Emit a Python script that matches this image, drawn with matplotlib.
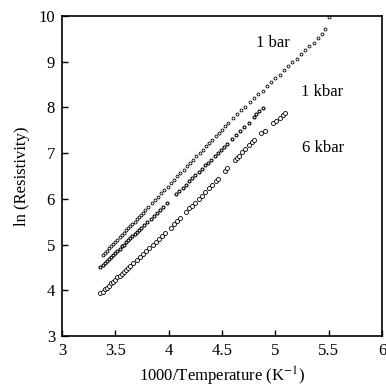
import matplotlib
matplotlib.use("Agg")
import matplotlib.pyplot as plt

plt.rcParams['font.family'] = ['Liberation Serif', 'DejaVu Serif']
plt.rcParams['mathtext.fontset'] = 'stix'

x_1bar = [3.38,3.40,3.42,3.44,3.46,3.48,3.50,3.52,3.54,3.56,3.58,3.60,3.62,3.64,3.66,3.68,3.70,3.72,3.74,3.76,
          3.78,3.81,3.84,3.87,3.90,3.93,3.96,3.99,4.02,4.05,4.08,4.11,4.14,4.17,4.20,4.23,4.26,4.29,4.32,4.35,
          4.38,4.41,4.44,4.47,4.50,4.53,4.56,4.60,4.64,4.68,4.72,4.76,4.80,4.84,4.88,4.92,4.96,5.00,5.04,5.08,
          5.12,5.16,5.20,5.24,5.28,5.32,5.36,5.40,5.44,5.47,5.50]
y_1bar = [4.77,4.82,4.87,4.92,4.97,5.02,5.06,5.11,5.16,5.21,5.26,5.31,5.36,5.41,5.46,5.50,5.55,5.60,5.65,5.70,
          5.75,5.82,5.90,5.97,6.04,6.12,6.19,6.26,6.34,6.41,6.49,6.56,6.63,6.71,6.78,6.85,6.93,7.00,7.07,7.15,
          7.22,7.29,7.37,7.44,7.51,7.59,7.66,7.76,7.85,7.94,8.02,8.11,8.20,8.29,8.37,8.46,8.55,8.64,8.72,8.81,
          8.90,8.99,9.07,9.16,9.25,9.34,9.42,9.51,9.60,9.72,9.97]

x_1kbar = [3.36,3.38,3.40,3.42,3.44,3.46,3.48,3.50,3.52,3.54,3.56,3.58,3.60,3.62,3.64,3.66,3.68,3.70,3.72,3.74,
           3.77,3.80,3.83,3.86,3.89,3.92,3.95,3.98,4.07,4.10,4.13,4.16,4.19,4.22,4.25,4.28,4.31,4.34,4.37,4.40,
           4.43,4.46,4.49,4.52,4.55,4.59,4.63,4.67,4.71,4.75,4.80,4.82,4.85,4.88]
y_1kbar = [4.51,4.55,4.60,4.64,4.69,4.73,4.78,4.82,4.87,4.91,4.96,5.00,5.05,5.09,5.14,5.18,5.23,5.27,5.32,5.36,
           5.43,5.50,5.56,5.63,5.70,5.76,5.83,5.90,6.10,6.17,6.24,6.31,6.38,6.45,6.52,6.59,6.66,6.73,6.79,6.86,
           6.93,7.00,7.07,7.14,7.21,7.30,7.39,7.49,7.58,7.67,7.80,7.86,7.92,7.99]

x_6kbar = [3.36,3.38,3.40,3.42,3.44,3.46,3.48,3.50,3.52,3.54,3.56,3.58,3.60,3.62,3.64,3.67,3.70,3.73,3.76,3.79,
           3.82,3.85,3.88,3.91,3.94,3.97,4.02,4.05,4.08,4.11,4.16,4.19,4.22,4.25,4.28,4.31,4.34,4.38,4.41,4.44,
           4.46,4.53,4.55,4.62,4.64,4.66,4.69,4.72,4.75,4.78,4.80,4.87,4.90,4.98,5.01,5.04,5.07,5.09]
y_6kbar = [3.93,3.97,4.02,4.06,4.10,4.15,4.19,4.23,4.28,4.32,4.36,4.41,4.45,4.49,4.54,4.60,4.67,4.73,4.80,4.86,
           4.93,4.99,5.06,5.12,5.19,5.25,5.37,5.44,5.52,5.59,5.71,5.79,5.84,5.92,5.99,6.06,6.14,6.23,6.31,6.38,
           6.43,6.62,6.67,6.84,6.89,6.94,7.02,7.09,7.17,7.24,7.29,7.43,7.49,7.65,7.71,7.77,7.83,7.87]

labels = ["1 bar", "1 kbar", "6 kbar"]
label_pos = [(4.98, 9.40), (5.44, 8.34), (5.45, 7.11)]

xticks = [3, 3.5, 4, 4.5, 5, 5.5, 6]
yticks = [3, 4, 5, 6, 7, 8, 9, 10]

fig = plt.figure(figsize=(3.86, 3.90), dpi=100)
ax = fig.add_axes([0.1606, 0.1385, 0.829, 0.8205])

mk = dict(linestyle='none', marker='o', markerfacecolor='white', markeredgecolor='black', clip_on=False)
ax.plot(x_1bar, y_1bar, markersize=2.1, markeredgewidth=0.6, **mk)
ax.plot(x_1kbar, y_1kbar, markersize=2.1, markeredgewidth=0.8, **mk)
ax.plot(x_6kbar, y_6kbar, markersize=2.9, markeredgewidth=0.6, **mk)

for t, (px, py) in zip(labels, label_pos):
    ax.text(px, py, t, fontsize=12, ha='center', va='center')

ax.set_xlim(3, 6)
ax.set_ylim(3, 10)
ax.set_xticks(xticks)
ax.set_xticklabels([f"{v:g}" for v in xticks])
ax.set_yticks(yticks)
ax.tick_params(direction='in', length=4, width=1, labelsize=12, pad=5)
for s in ax.spines.values():
    s.set_linewidth(1.2)
ax.set_xlabel("1000/Temperature (K$^{-1}$)", fontsize=12, labelpad=4)
ax.set_ylabel("ln (Resistivity)", fontsize=12, labelpad=6)

fig.savefig("out.png", dpi=100)
